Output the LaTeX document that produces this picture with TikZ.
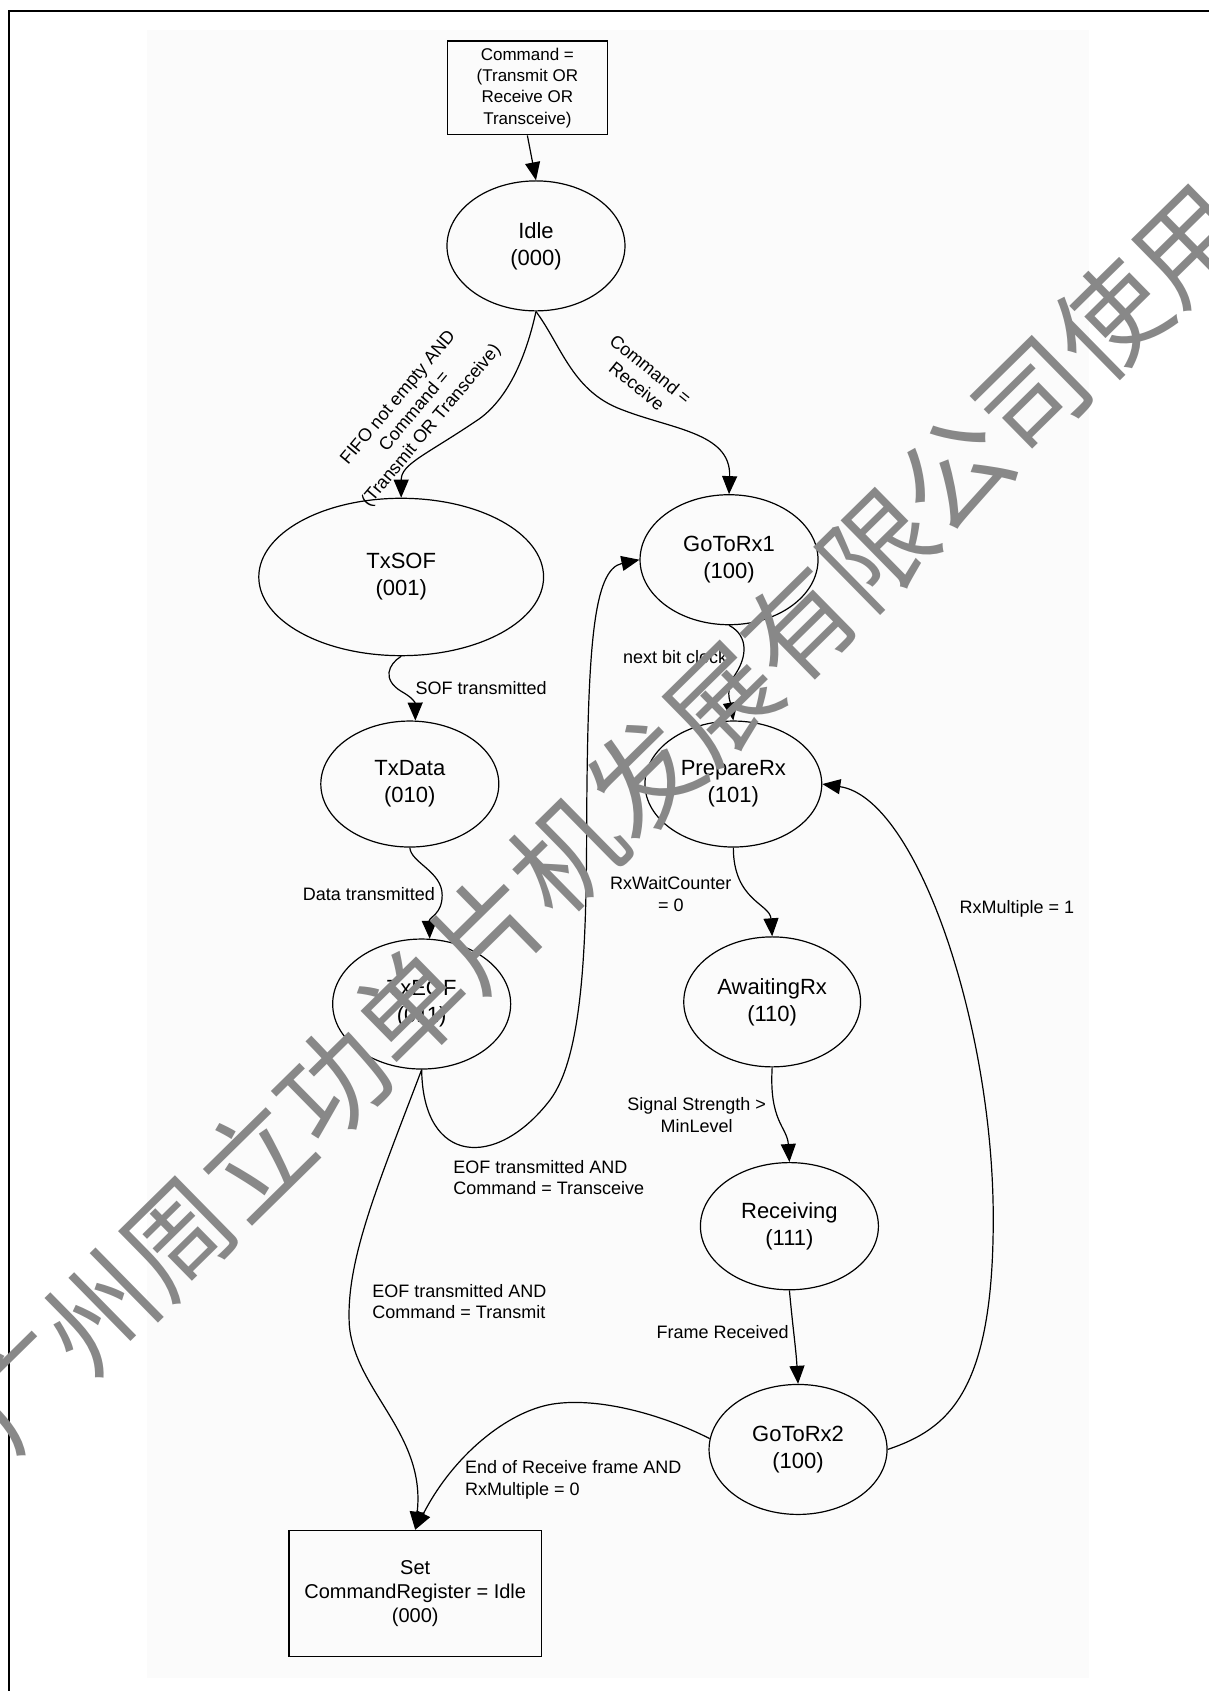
\documentclass[tikz,border=0pt]{standalone}
\usepackage{fontspec}
\setmainfont{Liberation Sans}
\newfontfamily\cjk{Noto Sans CJK SC}
\usetikzlibrary{shapes.geometric,arrows.meta}
\definecolor{bgc}{RGB}{251,251,251}
\definecolor{wmgray}{RGB}{136,136,136}
\begin{document}
\begin{tikzpicture}[x=0.53925pt,y=-0.53925pt,
  st/.style={draw, ellipse, line width=0.6pt, inner sep=0pt, minimum width=89pt, minimum height=65pt, align=center, font=\fontsize{11}{13.5}\selectfont},
  bx/.style={draw, rectangle, line width=0.6pt, inner sep=0pt, align=center},
  tr/.style={line width=0.6pt, -{Triangle[length=9pt,width=7.5pt]}},
  lb/.style={font=\fontsize{9}{10.8}\selectfont, inner sep=0pt},
]
\useasboundingbox (0,0) rectangle (1121,1568);
\fill[bgc] (136,28) rectangle (1010,1556);
\draw[line width=1.2pt] (8.5,1568) -- (8.5,10) -- (1121,10);

% states
\node[bx, minimum width=79.8pt, minimum height=46.9pt, font=\fontsize{8.5}{10.6}\selectfont] (start) at (489,81.5) {Command =\\(Transmit OR\\Receive OR\\Transceive)};
\node[st] (idle) at (497,228) {Idle\\(000)};
\node[st, minimum width=142.4pt, minimum height=78.7pt] (txsof) at (372,535) {TxSOF\\(001)};
\node[st] (rx1) at (676,519) {GoToRx1\\(100)};
\node[st, minimum height=63pt] (txdata) at (380,727) {TxData\\(010)};
\node[st, minimum width=88.4pt, minimum height=63pt] (prep) at (680,727) {PrepareRx\\(101)};
\node[st] (txeof) at (391,931) {TxEOF\\(011)};
\node[st, minimum width=88.4pt] (await) at (716,929) {AwaitingRx\\(110)};
\node[st, minimum height=63.6pt] (recv) at (732,1137) {Receiving\\(111)};
\node[st] (rx2) at (740,1344) {GoToRx2\\(100)};
\node[bx, minimum width=126.2pt, minimum height=63.1pt, font=\fontsize{10}{11.9}\selectfont] (set) at (385,1477.5) {Set\\CommandRegister = Idle\\(000)};

% transitions
\draw[tr] (start.south) -- (idle.north);
\draw[tr] (idle.south) .. controls (488,330) and (472,368) .. (445,388) .. controls (395,422) and (372,430) .. (txsof.north);
\draw[tr] (idle.south) .. controls (520,320) and (530,360) .. (572,378) .. controls (620,398) and (678,400) .. (rx1.north);
\draw[tr] (txsof.south) .. controls (360,616) and (354,630) .. (372,641) .. controls (388,650) and (385,655) .. (txdata.85);
\draw[tr] (txdata.south) .. controls (381,800) and (410,808) .. (410,830) .. controls (410,848) and (398,850) .. (txeof.83);
\draw[tr] (rx1.south) .. controls (695,590) and (692,610) .. (682,625) .. controls (672,640) and (677,650) .. (prep.north);
\draw[tr] (prep.south) .. controls (680,835) and (714,838) .. (await.north);
\draw[tr] (await.south) .. controls (713,1040) and (730,1045) .. (recv.north);
\draw[tr] (recv.south) .. controls (735,1230) and (738,1250) .. (rx2.north);
\draw[tr] (rx2.east) .. controls (880,1325) and (921,1290) .. (921,1130) .. controls (921,950) and (850,740) .. (prep.east);
\draw[tr] (txeof.south) .. controls (392,1080) and (460,1085) .. (510,1020) .. controls (540,980) and (544,880) .. (544,760) .. controls (545,600) and (550,528) .. (rx1.west);
\draw[tr] (txeof.south) .. controls (350,1100) and (320,1170) .. (324,1230) .. controls (330,1290) and (395,1330) .. (set.north);
\draw[tr] (rx2.173) .. controls (615,1312) and (555,1295) .. (512,1302) .. controls (470,1309) and (420,1350) .. (set.north);

% labels
\node[lb, rotate=50, align=center] (l1) at (385,382) {FIFO not empty AND\\Command =\\(Transmit OR Transceive)};
\node[lb, rotate=-39, align=center] (l2) at (597,350) {Command =\\Receive};
\node[lb, anchor=west] (l3) at (385,638) {SOF transmitted};
\node[lb] (l4) at (342,829) {Data transmitted};
\node[lb] (l5) at (626,609) {next bit clock};
\node[lb, align=center] (l6) at (622,829) {RxWaitCounter\\= 0};
\node[lb, align=center] (l7) at (646,1034) {Signal Strength >\\MinLevel};
\node[lb] (l8) at (670,1235) {Frame Received};
\node[lb] (l9) at (943,843) {RxMultiple = 1};
\node[lb, align=left, anchor=west] (l10) at (420,1092) {EOF transmitted AND\\Command = Transceive};
\node[lb, align=left, anchor=west] (l11) at (345,1207) {EOF transmitted AND\\Command = Transmit};
\node[lb, align=left, anchor=west] (l12) at (431,1372) {End of Receive frame AND\\RxMultiple = 0};

% watermark
\node[text=wmgray, rotate=44.5, inner sep=0pt, font=\cjk\fontsize{54.5}{54.5}\selectfont] (wm) at (561,757) {广州周立功单片机发展有限公司使用};
\end{tikzpicture}
\end{document}
